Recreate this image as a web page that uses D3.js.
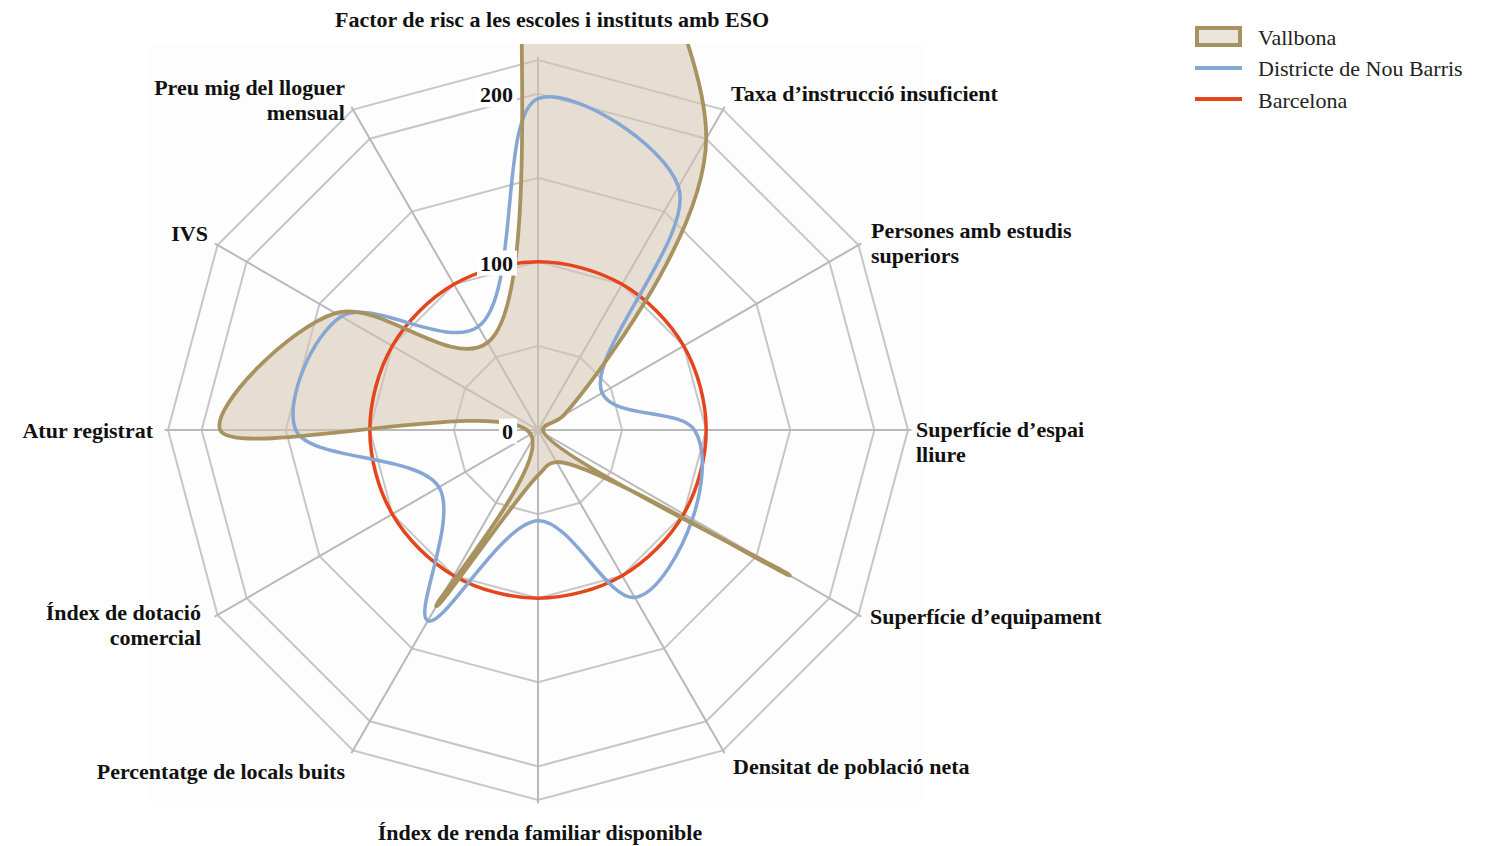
<!DOCTYPE html>
<html>
<head>
<meta charset="utf-8">
<script src="https://cdn.jsdelivr.net/npm/d3@7"></script>
<style>
  html, body { margin: 0; padding: 0; background: #ffffff; }
  svg { display: block; }
  .lbl { font-family: "Liberation Serif", "DejaVu Serif", serif; font-weight: bold; fill: #111; }
  .leg { font-family: "Liberation Serif", "DejaVu Serif", serif; fill: #222; }
</style>
</head>
<body>
<svg id="chart" width="1492" height="846"></svg>
<script>
// ---------- DATA ----------
const categories = [
  "Factor de risc a les escoles i instituts amb ESO",
  "Taxa d’instrucció insuficient",
  "Persones amb estudis superiors",
  "Superfície d’espai lliure",
  "Superfície d’equipament",
  "Densitat de població neta",
  "Índex de renda familiar disponible",
  "Percentatge de locals buits",
  "Índex de dotació comercial",
  "Atur registrat",
  "IVS",
  "Preu mig del lloguer mensual"
];
const vallbona  = [380, 200, 18, 3, 173, 22, 27, 121, 5, 189, 139, 60];
const nouBarris = [197, 167, 44, 93, 106, 115, 54, 131, 68, 144, 135, 71];
const barcelona = [100, 100, 100, 100, 100, 100, 100, 100, 100, 100, 100, 100];
const seriesNames = ["Vallbona", "Districte de Nou Barris", "Barcelona"];
const gridValues = [50, 100, 150, 200, 220];
const tickLabels = ["0", "100", "200"];
const tickValues = [0, 100, 200];

// ---------- LAYOUT ----------
const cx = 538, cy = 430;
const svg = d3.select("#chart");
const r = d3.scaleLinear().domain([0, 220]).range([0, 370]);
const n = categories.length;
const angle = d3.scaleLinear().domain([0, n]).range([0, 2 * Math.PI]);
const pt = (i, v) => [cx + r(v) * Math.sin(angle(i)), cy - r(v) * Math.cos(angle(i))];

const colors = { vall: "#a8925f", vallFill: "#d6c4b1", blue: "#86a6d3", red: "#e5441c", grid: "#c6c6c6" };

// faint background panel
svg.append("rect").attr("x", 150).attr("y", 45).attr("width", 776).attr("height", 756)
  .attr("fill", "#fdfdfd");

svg.append("defs").append("clipPath").attr("id", "clip")
  .append("rect").attr("x", 0).attr("y", 44).attr("width", 1000).attr("height", 760);

const g = svg.append("g");

// grid rings (polygons)
g.selectAll("path.ring").data(gridValues).join("path")
  .attr("class", "ring")
  .attr("d", v => d3.line()(d3.range(n).map(i => pt(i, v))) + "Z")
  .attr("fill", "none").attr("stroke", colors.grid).attr("stroke-width", 2);

// axes
g.selectAll("line.axis").data(d3.range(n)).join("line")
  .attr("x1", cx).attr("y1", cy)
  .attr("x2", i => pt(i, 222)[0]).attr("y2", i => pt(i, 222)[1])
  .attr("stroke", "#b9b9b9").attr("stroke-width", 2);

const radial = d3.lineRadial()
  .angle((d, i) => angle(i))
  .radius(d => r(d))
  .curve(d3.curveCatmullRomClosed.alpha(0.5));

const clipWrap = svg.append("g").attr("clip-path", "url(#clip)");
const inner = clipWrap.append("g").attr("transform", `translate(${cx},${cy})`);

inner.append("path").datum(vallbona).attr("d", radial)
  .attr("fill", colors.vallFill).attr("fill-opacity", 0.55).attr("stroke", "none");
inner.append("path").datum(barcelona).attr("d", radial)
  .attr("fill", "none").attr("stroke", colors.red).attr("stroke-width", 3.5);
inner.append("path").datum(nouBarris).attr("d", radial)
  .attr("fill", "none").attr("stroke", colors.blue).attr("stroke-width", 3.5);
inner.append("path").datum(vallbona).attr("d", radial)
  .attr("fill", "none").attr("stroke", colors.vall).attr("stroke-width", 3.8);

// tick labels with white boxes
const tickG = svg.append("g");
tickValues.forEach((v, k) => {
  const y = cy - r(v);
  const t = tickG.append("text").attr("class", "lbl")
    .attr("x", 513).attr("y", y + 1).attr("dy", "0.35em")
    .attr("text-anchor", "end").style("font-size", "22px").text(tickLabels[k]);
  const bb = t.node().getBBox();
  tickG.insert("rect", "text").attr("x", bb.x - 3).attr("y", bb.y)
    .attr("width", bb.width + 7).attr("height", bb.height).attr("fill", "#fff");
});

// axis labels
const labelPos = [
  { x: 552, y: 19, a: "middle" },
  { x: 731, y: 93, a: "start" },
  { x: 871, y: 230, a: "start", lines: ["Persones amb estudis", "superiors"] },
  { x: 916, y: 429, a: "start", lines: ["Superfície d’espai", "lliure"] },
  { x: 870, y: 616, a: "start" },
  { x: 733, y: 766, a: "start" },
  { x: 540, y: 832, a: "middle" },
  { x: 345, y: 771, a: "end" },
  { x: 201, y: 612, a: "end", lines: ["Índex de dotació", "comercial"] },
  { x: 153, y: 430, a: "end" },
  { x: 208, y: 233, a: "end" },
  { x: 345, y: 87, a: "end", lines: ["Preu mig del lloguer", "mensual"] }
];
const lg = svg.append("g");
categories.forEach((c, i) => {
  const p = labelPos[i];
  const lines = p.lines || [c];
  const t = lg.append("text").attr("class", "lbl").attr("text-anchor", p.a)
    .style("font-size", "22px");
  lines.forEach((l, k) => {
    t.append("tspan").attr("x", p.x).attr("y", p.y + k * 25).attr("dy", "0.35em").text(l);
  });
});

// legend
const leg = svg.append("g");
leg.append("rect").attr("x", 1197).attr("y", 28).attr("width", 43).attr("height", 17)
  .attr("fill", "#ece5dc").attr("stroke", colors.vall).attr("stroke-width", 4);
leg.append("line").attr("x1", 1195).attr("x2", 1242).attr("y1", 68).attr("y2", 68)
  .attr("stroke", colors.blue).attr("stroke-width", 4);
leg.append("line").attr("x1", 1195).attr("x2", 1242).attr("y1", 99).attr("y2", 99)
  .attr("stroke", colors.red).attr("stroke-width", 4);
seriesNames.forEach((s, k) => {
  leg.append("text").attr("class", "leg").attr("x", 1258).attr("y", 37 + k * 31.5)
    .attr("dy", "0.35em").style("font-size", "22px").text(s);
});
</script>
</body>
</html>
